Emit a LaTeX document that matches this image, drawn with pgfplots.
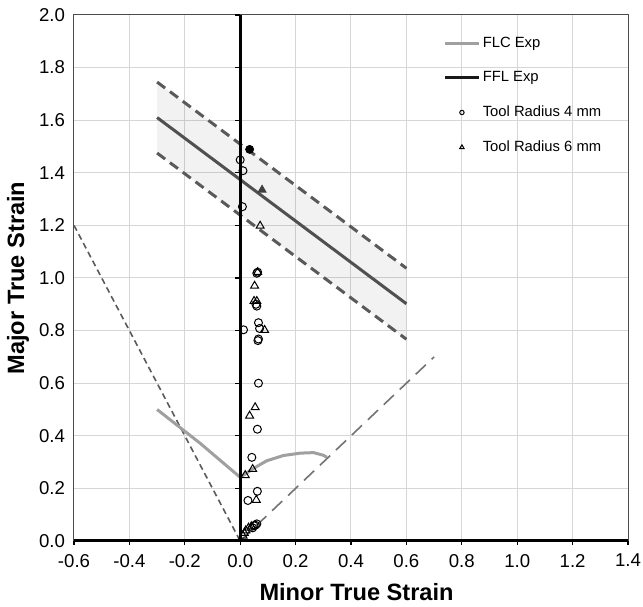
\documentclass[border=0pt]{standalone}
\usepackage{fontspec}
\setmainfont{Liberation Sans}
\usepackage{pgfplots}
\pgfplotsset{compat=1.18}
\definecolor{gridc}{HTML}{D6D6D6}
\definecolor{dgray}{HTML}{5A5A5A}
\definecolor{cgray}{HTML}{505050}
\definecolor{flcc}{HTML}{A0A0A0}
\pgfplotsset{shortline/.style={legend image code/.code={\draw[##1] (0pt,0pt) -- (17pt,0pt);}}}
\begin{document}
\begin{tikzpicture}
\begin{axis}[
  scale only axis, width=277pt, height=263pt,
  xmin=-0.6, xmax=1.4, ymin=0, ymax=2,
  xtick={-0.6,-0.4,-0.2,0,0.2,0.4,0.6,0.8,1.0,1.2,1.4},
  ytick={0,0.2,0.4,0.6,0.8,1.0,1.2,1.4,1.6,1.8,2.0},
  grid=major, grid style={gridc, line width=0.5pt},
  axis line style={draw=black!70, line width=0.5pt},
  tick align=outside, xtick pos=bottom, ytick pos=left,
  major tick length=2pt,
  xtick style={black, line width=0.6pt},
  ytick style={draw=none},
  xticklabel={\pgfmathprintnumber[fixed, fixed zerofill, precision=1, assume math mode=true]{\tick}},
  yticklabel={\pgfmathprintnumber[fixed, fixed zerofill, precision=1, assume math mode=true]{\tick}},
  ticklabel style={font=\fontsize{9.3}{11}\selectfont},
  xticklabel style={yshift=-1pt},
  yticklabel style={xshift=1pt},
  xlabel={Minor True Strain},
  ylabel={Major True Strain},
  label style={font=\bfseries\fontsize{11.8}{14}\selectfont},
  xlabel style={at={(axis description cs:0.51,-0.097)}, anchor=center},
  ylabel style={at={(axis description cs:-0.101,0.5)}, anchor=center},
  legend style={draw=none, fill=none, at={(axis description cs:0.666,0.964)}, anchor=north west,
    font=\fontsize{7.4}{9}\selectfont, row sep=8.2pt, inner sep=0pt, nodes={inner sep=1.2pt}},
  legend cell align=left,
  clip=false,
]
\addlegendimage{flcc, line width=1.5pt, shortline}
\addlegendentry{FLC Exp}
\addlegendimage{black!90, line width=1.5pt, shortline}
\addlegendentry{FFL Exp}
\addlegendimage{only marks, mark=o, mark size=1.1pt, black, line width=0.5pt}
\addlegendentry{Tool Radius 4 mm}
\addlegendimage{only marks, mark=triangle, mark size=1.3pt, black, line width=0.5pt}
\addlegendentry{Tool Radius 6 mm}

% band
\addplot[fill=black, fill opacity=0.05, draw=none, forget plot] coordinates {(-0.3,1.745) (0.6,1.037) (0.6,0.767) (-0.3,1.475)} -- cycle;
\addplot[dgray, line width=1.5pt, dash pattern=on 5pt off 3pt, forget plot] coordinates {(-0.3,1.745) (0.6,1.037)};
\addplot[dgray, line width=1.5pt, dash pattern=on 5pt off 3pt, forget plot] coordinates {(-0.3,1.475) (0.6,0.767)};
\addplot[cgray, line width=1.5pt, forget plot] coordinates {(-0.3,1.61) (0.6,0.902)};

% uniaxial / biaxial reference lines
\addplot[dgray, line width=0.8pt, dash pattern=on 3pt off 2pt, forget plot] coordinates {(-0.6,1.2) (0,0)};
\addplot[black!55, line width=0.8pt, dash pattern=on 7pt off 4pt, forget plot] coordinates {(0,0) (0.7,0.7)};

% FLC
\addplot[flcc, line width=1.5pt, forget plot] coordinates {(-0.3,0.500) (-0.144,0.371) (0.000,0.242) (0.048,0.276) (0.096,0.305) (0.156,0.325) (0.217,0.334) (0.265,0.336) (0.300,0.326) (0.313,0.318)};

% axes lines
\addplot[black, line width=1.5pt, forget plot] coordinates {(-0.6,0) (1.4,0)};
\addplot[black, line width=1.5pt, mark=-, mark size=1.25pt, mark options={xshift=-1.25pt, line width=0.6pt}, forget plot] coordinates {(0,0) (0,0.2) (0,0.4) (0,0.6) (0,0.8) (0,1.0) (0,1.2) (0,1.4) (0,1.6) (0,1.8) (0,2.0)};

% Tool radius 4 mm
\addplot[only marks, mark=o, mark size=2pt, black, line width=0.5pt, forget plot] coordinates {
(0.000,1.449) (0.010,1.408) (0.008,1.271)
(0.063,1.022) (0.060,1.018) (0.057,0.900) (0.060,0.893)
(0.066,0.830) (0.012,0.803) (0.070,0.808)
(0.066,0.768) (0.064,0.762) (0.066,0.600) (0.062,0.425)
(0.042,0.318) (0.062,0.189) (0.028,0.154)
(0.060,0.065) (0.055,0.060) (0.050,0.058) (0.045,0.050)
};
% Tool radius 6 mm
\addplot[only marks, mark=triangle, mark size=2.3pt, black, line width=0.5pt, forget plot] coordinates {
(0.072,1.198) (0.063,1.022) (0.052,0.970) (0.050,0.912) (0.060,0.912)
(0.088,0.802) (0.054,0.508) (0.034,0.476) (0.045,0.273) (0.018,0.250)
(0.058,0.156) (0.030,0.050) (0.020,0.040) (0.015,0.030) (0.010,0.020) (0.040,0.055)
};
% fracture points
\addplot[only marks, mark=*, mark size=2pt, black, forget plot] coordinates {(0.034,1.489)};
\addplot[only marks, mark=triangle*, mark size=2.3pt, black!75, mark options={draw=black!75}, forget plot] coordinates {(0.079,1.335)};
\end{axis}
\pgfresetboundingbox
\path[use as bounding box] ([shift={(-37pt,-33pt)}]current axis.south west) rectangle ([shift={(7.5pt,7.5pt)}]current axis.north east);
\end{tikzpicture}
\end{document}
